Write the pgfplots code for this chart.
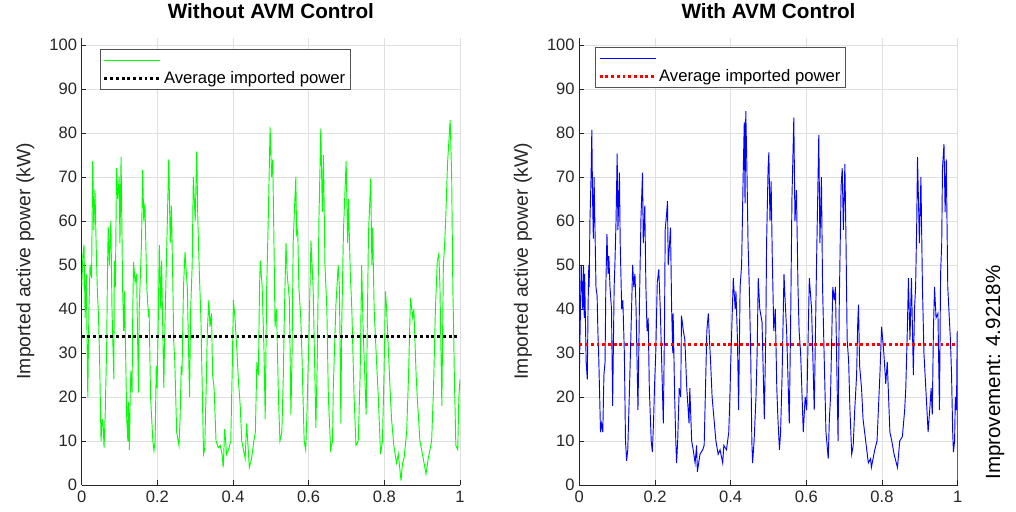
\documentclass[border=0pt]{standalone}
\usepackage{pgfplots}
\pgfplotsset{compat=1.18}
\usepackage{fontspec}
\setmainfont{Liberation Sans}
\definecolor{axgray}{RGB}{38,38,38}
\definecolor{gridgray}{RGB}{223,223,223}
\definecolor{mgreen}{RGB}{0,255,0}

\pgfplotsset{
  panel/.style={
    scale only axis, width=283.7pt, height=335.6pt,
    anchor=south west,
    xmin=0, xmax=1, ymin=0, ymax=101.7,
    xtick={0,0.2,0.4,0.6,0.8,1},
    ytick={0,10,...,100},
    axis x line*=bottom, axis y line*=left,
    axis line style={axgray, line width=0.6pt},
    tick align=inside, major tick length=3.5pt,
    tick style={axgray, line width=0.6pt},
    grid=major, major grid style={gridgray, line width=0.6pt},
    /pgf/number format/assume math mode=true,
    tick label style={font=\fontsize{12.4}{14}\selectfont, text=axgray},
    xticklabel style={yshift=-1pt},
    ylabel={Imported active power (kW)},
    ylabel style={font=\fontsize{14.5}{17}\selectfont, text=axgray,
      at={(axis description cs:-0.149,0.5)}, anchor=center},
    title style={font=\bfseries\fontsize{15.5}{18}\selectfont,
      at={(axis description cs:0.5,1)}, anchor=base, yshift=8.1pt},
    legend cell align=left,
    legend style={anchor=north west, draw=axgray!80, line width=0.6pt,
      font=\fontsize{12.5}{12.5}\selectfont, inner xsep=2pt, inner ysep=1.5pt,
      row sep=0pt, nodes={inner sep=1.6pt}},
    legend image code/.code={\draw[#1] (0pt,0pt) -- (42pt,0pt);},
  },
}

\begin{document}
\begin{tikzpicture}
\useasboundingbox (0,0) rectangle (762pt,383.25pt);

\begin{axis}[panel, at={(61.3pt,19.5pt)},
  title={Without AVM Control},
  legend style={at={(axis description cs:0.048,0.974)}}]
\addplot[mgreen, line width=0.7pt] coordinates {
(0,45) (0.003,52) (0.006,54.6) (0.009,38) (0.012,48) (0.016,20) (0.019,40)
(0.022,50) (0.026,47) (0.029,73.6) (0.032,58) (0.035,67) (0.038,55) (0.041,45)
(0.044,39) (0.047,30) (0.051,10) (0.054,15) (0.057,13) (0.059,8.5) (0.062,16)
(0.064,24) (0.066,32) (0.068,48) (0.070,58.7) (0.073,50) (0.077,60) (0.080,40)
(0.083,30) (0.085,24) (0.086,51) (0.089,45) (0.092,72) (0.095,65) (0.099,70)
(0.101,55) (0.104,74.6) (0.108,45) (0.111,35) (0.113,44) (0.116,30) (0.119,15)
(0.122,10) (0.123,19) (0.126,8) (0.128,20) (0.130,26) (0.133,21) (0.135,40)
(0.137,50.7) (0.141,46) (0.145,48) (0.150,21) (0.152,40) (0.158,55) (0.161,71.6)
(0.164,60) (0.167,64) (0.172,45) (0.176,39) (0.178,40) (0.182,20) (0.188,10)
(0.191,7.8) (0.194,10) (0.197,27) (0.199,22) (0.202,35) (0.205,54.5) (0.209,40)
(0.211,51) (0.217,22) (0.219,33) (0.225,55) (0.230,74) (0.234,55) (0.237,63.5)
(0.241,45) (0.243,33) (0.246,28) (0.251,12) (0.257,9) (0.260,15) (0.263,27)
(0.265,25) (0.269,45) (0.273,52.9) (0.279,45) (0.285,20) (0.288,40) (0.292,50)
(0.295,70) (0.300,60) (0.304,75.8) (0.307,60) (0.311,48) (0.315,38) (0.319,20)
(0.322,7) (0.325,8) (0.329,22) (0.332,35) (0.336,42) (0.339,36) (0.343,39)
(0.346,25) (0.350,22) (0.355,10) (0.361,8.5) (0.366,9) (0.371,7) (0.374,4)
(0.378,12.7) (0.383,7) (0.388,8) (0.394,10) (0.398,27) (0.401,42) (0.405,38)
(0.410,31) (0.414,24) (0.419,18) (0.423,10) (0.432,6) (0.436,14) (0.443,4)
(0.449,6) (0.455,10) (0.459,12) (0.463,28) (0.467,25) (0.470,45) (0.472,51)
(0.477,45) (0.482,30) (0.485,15) (0.489,45) (0.493,60) (0.498,81.3) (0.502,70)
(0.505,74) (0.509,50) (0.511,36) (0.515,40) (0.520,20) (0.524,10) (0.529,12)
(0.533,25) (0.536,40) (0.540,55) (0.543,48) (0.549,42) (0.553,16) (0.556,30)
(0.559,55) (0.563,64) (0.566,70) (0.568,57) (0.571,58) (0.574,45) (0.579,38)
(0.582,30) (0.588,10) (0.592,8) (0.595,15) (0.601,35) (0.606,55.5) (0.612,44)
(0.619,13) (0.623,30) (0.627,60) (0.632,81) (0.636,62) (0.639,75) (0.643,50)
(0.648,40) (0.652,20) (0.658,8) (0.663,10) (0.665,22) (0.672,41) (0.678,50)
(0.681,45) (0.683,32) (0.685,14) (0.687,35) (0.692,58) (0.699,73.6) (0.703,55)
(0.705,65) (0.710,48) (0.714,40) (0.720,20) (0.725,9) (0.731,10) (0.736,25)
(0.740,50) (0.744,35) (0.752,16) (0.758,57) (0.764,69.7) (0.767,50) (0.769,58.5)
(0.773,40) (0.780,27) (0.784,20) (0.790,7) (0.795,10) (0.799,25) (0.803,44)
(0.806,40) (0.811,30) (0.815,22) (0.819,15) (0.825,9) (0.832,5) (0.837,7)
(0.844,1) (0.848,5) (0.852,6) (0.859,12) (0.864,25) (0.869,42.5) (0.875,38)
(0.878,40) (0.884,25) (0.887,20) (0.894,10) (0.903,6) (0.910,2.5) (0.916,6)
(0.925,10) (0.930,22) (0.935,40) (0.940,51) (0.944,52.5) (0.947,45) (0.952,18)
(0.956,50) (0.959,54) (0.962,60) (0.967,73) (0.974,83) (0.978,70) (0.981,45)
(0.983,36) (0.985,25) (0.989,9) (0.994,8) (0.997,20) (1.000,24)
};
\addlegendentry{\strut}
\addplot[black, line width=2.2pt, dash pattern=on 2.2pt off 2.1pt] coordinates {(0,33.7) (1,33.7)};
\addlegendentry{\strut Average imported power}
\end{axis}

\begin{axis}[panel, at={(434.5pt,19.5pt)},
  title={With AVM Control},
  legend style={at={(axis description cs:0.0415,0.9795)}}]
\addplot[blue, line width=0.7pt] coordinates {
(0,25) (0.005,50) (0.009,40) (0.011,50) (0.013,38) (0.014,48) (0.018,28)
(0.021,24) (0.023,40) (0.025,50) (0.026,45) (0.028,60) (0.031,70) (0.033,80.7)
(0.035,65) (0.037,56) (0.039,70) (0.041,60) (0.044,45) (0.047,43) (0.049,35)
(0.051,30) (0.056,12) (0.059,14) (0.062,12) (0.065,25) (0.068,28) (0.070,45)
(0.073,57) (0.076,48) (0.078,52) (0.081,45) (0.085,40) (0.088,18) (0.092,45)
(0.094,50) (0.097,60) (0.100,75.3) (0.102,58) (0.106,71) (0.108,55) (0.112,40)
(0.115,42) (0.119,30) (0.122,10) (0.125,5.5) (0.128,8) (0.132,20) (0.136,33)
(0.141,50) (0.144,45) (0.147,48) (0.150,40) (0.155,17) (0.159,42) (0.163,61)
(0.167,71) (0.169,55) (0.173,63.5) (0.176,45) (0.179,35) (0.182,38) (0.185,22)
(0.190,10) (0.193,7.5) (0.196,14) (0.199,23) (0.202,30) (0.206,46) (0.210,49)
(0.214,40) (0.222,14) (0.225,35) (0.227,58) (0.231,62) (0.233,64.5) (0.235,50)
(0.241,58.5) (0.244,40) (0.247,30) (0.248,39) (0.252,20) (0.255,10) (0.257,5)
(0.260,10) (0.264,22) (0.268,20) (0.270,38.5) (0.275,35) (0.279,33) (0.284,22)
(0.290,14) (0.292,22) (0.297,10) (0.301,8) (0.306,5) (0.310,9) (0.312,3)
(0.319,7) (0.326,8) (0.330,9) (0.333,20) (0.337,35) (0.341,39) (0.344,33)
(0.347,28) (0.351,20) (0.356,15) (0.361,10) (0.367,7) (0.372,8) (0.379,5)
(0.382,9) (0.389,8) (0.395,12) (0.398,20) (0.400,27) (0.407,47) (0.412,40)
(0.414,44) (0.418,33) (0.421,17) (0.425,45) (0.429,50) (0.433,70) (0.436,82.5)
(0.438,64) (0.440,85) (0.443,72) (0.446,55) (0.449,46) (0.453,30) (0.456,10)
(0.458,5) (0.462,10) (0.467,20) (0.470,30) (0.473,47) (0.477,40) (0.483,37)
(0.489,15) (0.493,35) (0.495,55) (0.499,72) (0.501,75.6) (0.504,60) (0.507,69)
(0.510,52) (0.514,35) (0.518,40) (0.522,22) (0.525,15) (0.529,8) (0.532,12)
(0.536,25) (0.541,48) (0.544,42) (0.548,35) (0.555,14) (0.559,40) (0.562,65)
(0.567,83.5) (0.570,60) (0.574,67) (0.578,45) (0.581,35) (0.585,30) (0.592,12)
(0.597,20) (0.601,17) (0.608,47) (0.614,40) (0.621,17) (0.627,50) (0.633,79.6)
(0.636,55) (0.640,70) (0.643,45) (0.647,30) (0.652,12) (0.658,6) (0.661,15)
(0.664,20) (0.670,45) (0.674,42) (0.677,45) (0.684,10) (0.687,40) (0.692,68)
(0.695,72) (0.698,58) (0.702,73) (0.705,55) (0.708,33) (0.712,28) (0.715,18)
(0.720,7) (0.724,9) (0.728,17) (0.733,25) (0.736,37) (0.738,41) (0.741,27)
(0.746,22) (0.750,15) (0.757,10) (0.764,5) (0.770,6) (0.772,4) (0.781,8)
(0.787,10) (0.795,26) (0.799,36) (0.805,30) (0.810,23) (0.814,28) (0.821,12)
(0.826,10) (0.832,7) (0.841,4) (0.847,10) (0.854,11) (0.860,17) (0.863,22)
(0.867,35) (0.870,47) (0.874,33) (0.878,47) (0.883,25) (0.886,40) (0.889,45)
(0.892,60) (0.894,74.5) (0.899,55) (0.903,70) (0.907,45) (0.911,30) (0.922,12)
(0.927,18) (0.930,22) (0.933,16) (0.936,35) (0.939,45) (0.943,38) (0.948,39)
(0.952,17) (0.955,48) (0.958,55) (0.960,72) (0.964,77.5) (0.967,62) (0.970,74)
(0.974,45) (0.978,38) (0.981,33) (0.984,25) (0.987,12) (0.989,7.5) (0.992,10)
(0.994,20) (0.997,17) (0.999,35) (1.000,0)
};
\addlegendentry{\strut}
\addplot[red, line width=2.2pt, dash pattern=on 2.2pt off 2.1pt] coordinates {(0,32) (1,32)};
\addlegendentry{\strut Average imported power}
\end{axis}

\node[rotate=90, anchor=center, font=\fontsize{15.4}{18}\selectfont, text=black]
  at (746.3pt,103.9pt) {Improvement: 4.9218\%};
\end{tikzpicture}
\end{document}
